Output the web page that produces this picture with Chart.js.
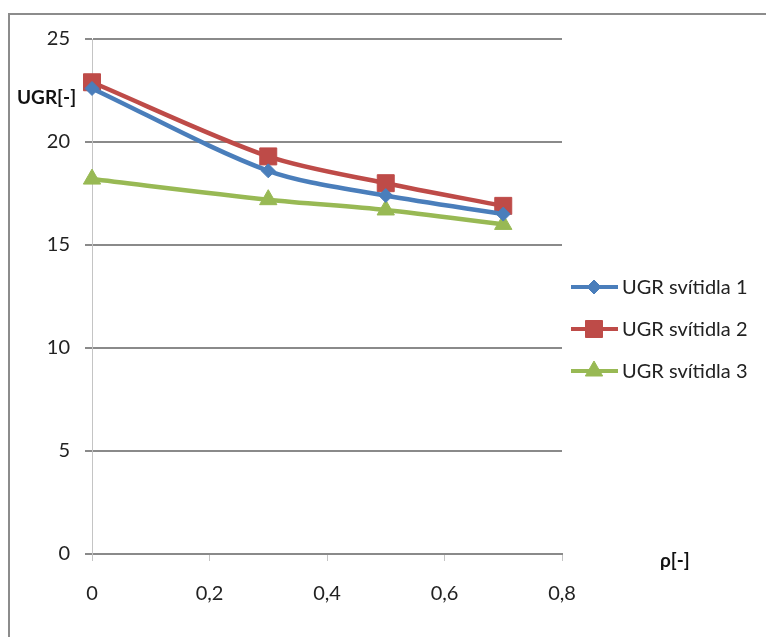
<!DOCTYPE html>
<html>
<head>
<meta charset="utf-8">
<script src="https://cdn.jsdelivr.net/npm/chart.js@4/dist/chart.umd.min.js"></script>
<style>
  body { margin: 0; background: #fff; overflow: hidden; }
  #wrap { position: relative; width: 766px; height: 637px; }
  #frame { position: absolute; left: 8px; top: 13px; width: 800px; height: 700px; border: 2px solid #8c8c8c; box-sizing: border-box; }
  canvas { position: absolute; left: 0; top: 0; }
</style>
</head>
<body>
<div id="wrap">
  <div id="frame"></div>
  <canvas id="ugrChart" width="766" height="637"></canvas>
</div>
<script>
// reflectance values and UGR per luminaire
const rho = [0, 0.3, 0.5, 0.7];
const ugr1 = [22.6, 18.6, 17.4, 16.5];
const ugr2 = [22.9, 19.3, 18.0, 16.9];
const ugr3 = [18.2, 17.2, 16.7, 16.0];
const seriesNames = ['UGR svítidla 1', 'UGR svítidla 2', 'UGR svítidla 3'];
const xTicks = [0, 0.2, 0.4, 0.6, 0.8];
const yTicks = [0, 5, 10, 15, 20, 25];

const FONT = 'Lato, "Open Sans", sans-serif';

function points(vals) {
    return rho.map(function(r, i) { return { x: r, y: vals[i] }; });
}

const legendPlugin = {
    id: 'sideLegend',
    afterDraw: function(chart) {
        const ctx = chart.ctx;
        ctx.save();
        chart.data.datasets.forEach(function(ds, i) {
            const y = 287 + i * 42;
            ctx.strokeStyle = ds.borderColor;
            ctx.lineWidth = 4;
            ctx.beginPath();
            ctx.moveTo(571, y);
            ctx.lineTo(618, y);
            ctx.stroke();
            ctx.fillStyle = ds.backgroundColor;
            ctx.lineWidth = 1;
            Chart.helpers.drawPoint(ctx, { pointStyle: ds.pointStyle, rotation: 0, borderWidth: 1, radius: ds.pointRadius }, 594, y);
            ctx.fillStyle = '#222';
            ctx.font = '20px ' + FONT;
            ctx.textAlign = 'left';
            ctx.textBaseline = 'middle';
            ctx.fillText(ds.label, 622, y + 1);
        });
        // axis titles
        ctx.font = 'bold 19px ' + FONT;
        ctx.fillStyle = '#111';
        ctx.textBaseline = 'middle';
        ctx.textAlign = 'left';
        ctx.fillText('UGR[-]', 17, 98);
        ctx.fillText('ρ[-]', 660, 561);
        ctx.restore();
    }
};

const ctx = document.getElementById('ugrChart').getContext('2d');
const ugrChart = new Chart(ctx, {
    type: 'line',
    data: {
        datasets: [
            {
                label: seriesNames[0],
                data: points(ugr1),
                borderColor: '#4a7ebb',
                backgroundColor: '#4a7ebb',
                pointStyle: 'rectRot',
                pointRadius: 7,
                clip: false
            },
            {
                label: seriesNames[1],
                data: points(ugr2),
                borderColor: '#be4b48',
                backgroundColor: '#be4b48',
                pointStyle: 'rect',
                pointRadius: 12,
                clip: false
            },
            {
                label: seriesNames[2],
                data: points(ugr3),
                borderColor: '#98b954',
                backgroundColor: '#98b954',
                pointStyle: 'triangle',
                pointRadius: 10,
                clip: false
            }
        ]
    },
    options: {
        responsive: false,
        animation: false,
        layout: { padding: { top: 39, right: 204, left: 0, bottom: 0 } },
        elements: {
            line: { borderWidth: 4.5, tension: 0.3 },
            point: { borderWidth: 1, hoverRadius: 8 }
        },
        plugins: {
            legend: { display: false },
            tooltip: { enabled: false }
        },
        scales: {
            x: {
                type: 'linear',
                min: 0,
                max: 0.8,
                afterBuildTicks: function(scale) {
                    scale.ticks = xTicks.map(function(v) { return { value: v }; });
                },
                afterFit: function(scale) { scale.height = 637 - 554; },
                grid: { drawOnChartArea: false, drawTicks: true, tickLength: 7, color: '#c4c4c4', lineWidth: 1 },
                border: { color: '#8a8a8a', width: 2 },
                ticks: {
                    padding: 21,
                    color: '#222',
                    font: { family: FONT, size: 20 },
                    callback: function(v) { return String(+v.toFixed(1)).replace('.', ','); }
                }
            },
            y: {
                min: 0,
                max: 25,
                afterBuildTicks: function(scale) {
                    scale.ticks = yTicks.map(function(v) { return { value: v }; });
                },
                afterFit: function(scale) { scale.width = 92; },
                grid: { color: '#8a8a8a', lineWidth: 2, tickLength: 7 },
                border: { color: '#c4c4c4', width: 1 },
                ticks: {
                    padding: 15,
                    color: '#222',
                    font: { family: FONT, size: 20 }
                }
            }
        }
    },
    plugins: [legendPlugin]
});
</script>
</body>
</html>
